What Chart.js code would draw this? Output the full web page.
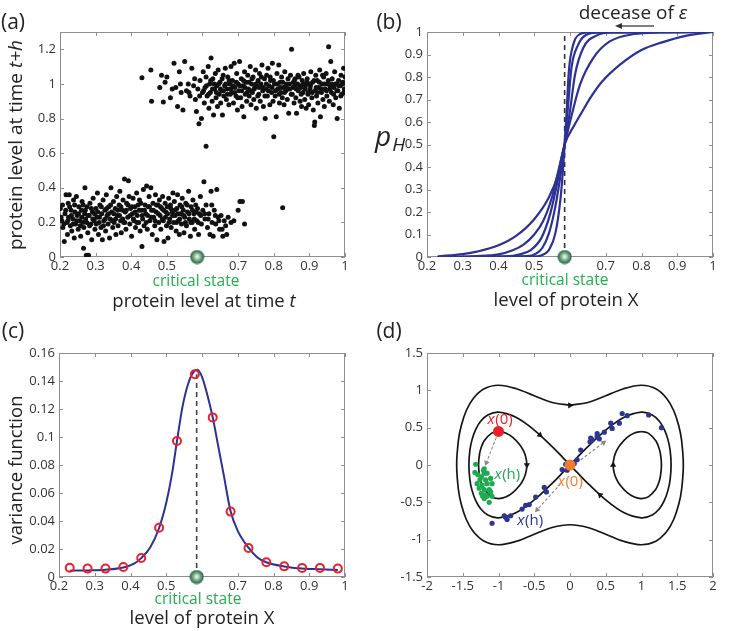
<!DOCTYPE html>
<html>
<head>
<meta charset="utf-8">
<title>Critical state</title>
<script src="https://cdn.jsdelivr.net/npm/chart.js@4.4.1/dist/chart.umd.min.js"></script>
<style>
  body { margin: 0; width: 748px; height: 631px; position: relative; overflow: hidden; background: #fff; font-family: "Open Sans", sans-serif; color: #222; }
  canvas { position: absolute; }
  .lbl { position: absolute; white-space: nowrap; transform: translate(-50%, -50%); line-height: 1; }
  .rot { transform: translate(-50%, -50%) rotate(-90deg); }
  .crit { color: #22b04b; font-size: 15.5px; }
  .ttl { font-size: 18.5px; }
  .tag { font-size: 21px; }
</style>
</head>
<body>
<canvas id="chartA" width="374" height="315" style="left:0;top:0"></canvas>
<canvas id="chartB" width="374" height="315" style="left:374px;top:0"></canvas>
<canvas id="chartC" width="374" height="316" style="left:0;top:315px"></canvas>
<canvas id="chartD" width="374" height="316" style="left:374px;top:315px"></canvas>

<div class="lbl tag" style="left:13px;top:21px">(a)</div>
<div class="lbl tag" style="left:389px;top:21px">(b)</div>
<div class="lbl tag" style="left:13px;top:330px">(c)</div>
<div class="lbl tag" style="left:389px;top:330px">(d)</div>

<div class="lbl ttl rot" style="left:15px;top:145px;font-size:19px">protein level at time <i>t+h</i></div>
<div class="lbl ttl" style="left:204px;top:300px">protein level at time <i>t</i></div>
<div class="lbl crit" style="left:196px;top:281px">critical state</div>

<div style="position:absolute;left:375px;top:121px;font-size:28px;font-style:italic;line-height:28px">p<span style="font-size:19px;position:relative;top:5px;margin-left:1px">H</span></div>
<div class="lbl ttl" style="left:566px;top:299px">level of protein X</div>
<div class="lbl crit" style="left:565px;top:280px">critical state</div>
<div class="lbl ttl" style="left:633px;top:12px;font-size:19px">decease of <i>ε</i></div>
<svg style="position:absolute;left:610px;top:20px" width="46" height="12">
  <line x1="44" y1="6" x2="10" y2="6" stroke="#555" stroke-width="1.4"/>
  <polygon points="5,6 12,3 12,9" fill="#333"/>
</svg>

<div class="lbl ttl rot" style="left:15px;top:470px">variance function</div>
<div class="lbl ttl" style="left:202px;top:617px">level of protein X</div>
<div class="lbl crit" style="left:198px;top:599px">critical state</div>

<script>
// ---------- data ----------
const criticalX = 0.585;

const proteinTicks = [0.2, 0.3, 0.4, 0.5, 0.6, 0.7, 0.8, 0.9, 1];
const proteinTickLabels = ['0.2', '0.3', '0.4', '0.5', '', '0.7', '0.8', '0.9', '1'];
const levelTicksA = [0, 0.2, 0.4, 0.6, 0.8, 1, 1.2];
const levelTickLabelsA = ['0', '0.2', '0.4', '0.6', '0.8', '1', '1.2'];
const probTicks = [0, 0.1, 0.2, 0.3, 0.4, 0.5, 0.6, 0.7, 0.8, 0.9, 1];
const probTickLabels = ['0', '0.1', '0.2', '0.3', '0.4', '0.5', '0.6', '0.7', '0.8', '0.9', '1'];
const varTicks = [0, 0.02, 0.04, 0.06, 0.08, 0.1, 0.12, 0.14, 0.16];
const varTickLabels = ['0', '0.02', '0.04', '0.06', '0.08', '0.1', '0.12', '0.14', '0.16'];
const phaseXTicks = [-2, -1.5, -1, -0.5, 0, 0.5, 1, 1.5, 2];
const phaseXTickLabels = ['-2', '-1.5', '-1', '-0.5', '0', '0.5', '1', '1.5', '2'];
const phaseYTicks = [-1.5, -1, -0.5, 0, 0.5, 1, 1.5];
const phaseYTickLabels = ['-1.5', '-1', '-0.5', '0', '0.5', '1', '1.5'];

// (a) protein level at t vs t+h, low state
const lowCluster = [
  [0.201,0.28],[0.205,0.21],[0.208,0.17],[0.212,0.09],[0.214,0.25],[0.217,0.36],[0.219,0.2],[0.221,0.13],[0.223,0.31],
  [0.224,0.23],[0.226,0.36],[0.229,0.18],[0.231,0.27],[0.233,0.15],[0.236,0.22],[0.238,0.33],[0.24,0.11],[0.242,0.26],
  [0.244,0.19],[0.246,0.35],[0.248,0.24],[0.251,0.16],[0.253,0.29],[0.255,0.21],[0.258,0.12],[0.26,0.27],[0.262,0.32],
  [0.264,0.2],[0.266,0.05],[0.267,0.17],[0.269,0.25],[0.27,0.4],[0.272,0.22],[0.274,0.01],[0.276,0.29],[0.278,0.14],[0.28,0.01],
  [0.282,0.24],[0.284,0.31],[0.287,0.19],[0.289,0.1],[0.291,0.26],[0.293,0.34],[0.296,0.21],[0.298,0.16],
  [0.301,0.28],[0.303,0.23],[0.305,0.37],[0.308,0.13],[0.31,0.2],[0.312,0.3],[0.315,0.17],[0.317,0.25],[0.319,0.1],
  [0.321,0.33],[0.323,0.21],[0.326,0.27],[0.328,0.15],[0.33,0.36],[0.332,0.24],[0.335,0.19],[0.337,0.29],[0.339,0.11],
  [0.341,0.22],[0.343,0.4],[0.345,0.26],[0.348,0.17],[0.35,0.32],[0.352,0.2],[0.355,0.28],[0.357,0.13],[0.359,0.35],
  [0.361,0.24],[0.363,0.18],[0.366,0.3],[0.368,0.38],[0.37,0.21],[0.372,0.14],[0.375,0.27],[0.377,0.33],[0.379,0.2],
  [0.381,0.45],[0.383,0.26],[0.385,0.16],[0.387,0.31],[0.39,0.23],[0.392,0.44],[0.394,0.35],[0.396,0.19],[0.398,0.28],
  [0.401,0.12],[0.403,0.25],[0.405,0.34],[0.408,0.21],[0.41,0.29],[0.412,0.17],[0.415,0.37],[0.417,0.24],[0.419,0.3],
  [0.421,0.2],[0.423,0.33],[0.425,0.15],[0.428,0.27],[0.43,0.06],[0.432,0.22],[0.434,0.39],[0.436,0.18],[0.439,0.3],
  [0.441,0.25],[0.443,0.41],[0.445,0.16],[0.448,0.29],[0.45,0.35],[0.452,0.21],[0.455,0.4],[0.457,0.27],[0.459,0.13],
  [0.461,0.31],[0.463,0.23],[0.466,0.18],[0.468,0.36],[0.47,0.26],[0.472,0.1],[0.475,0.3],[0.477,0.2],[0.479,0.33],
  [0.481,0.24],[0.483,0.16],[0.486,0.28],[0.488,0.35],[0.49,0.21],[0.492,0.09],[0.495,0.31],[0.497,0.26],[0.499,0.18],
  [0.501,0.29],[0.503,0.11],[0.505,0.34],[0.508,0.22],[0.51,0.3],[0.512,0.17],[0.515,0.26],[0.517,0.37],[0.519,0.2],
  [0.521,0.32],[0.523,0.24],[0.526,0.15],[0.528,0.28],[0.53,0.36],[0.532,0.21],[0.535,0.13],[0.537,0.3],[0.539,0.25],
  [0.541,0.19],[0.543,0.34],[0.546,0.27],[0.548,0.14],[0.55,0.23],[0.553,0.31],[0.555,0.18],[0.558,0.26],
  [0.561,0.38],[0.563,0.22],[0.566,0.12],[0.568,0.29],[0.571,0.2],[0.573,0.33],[0.576,0.25],[0.578,0.16],
  [0.581,0.3],[0.584,0.21],[0.586,0.28],[0.589,0.13],[0.591,0.25],[0.594,0.35],[0.597,0.19],
  [0.601,0.27],[0.604,0.435],[0.607,0.22],[0.61,0.3],[0.614,0.17],[0.618,0.25],[0.621,0.13],[0.624,0.38],[0.627,0.2],
  [0.63,0.12],[0.633,0.27],[0.637,0.19],[0.64,0.39],[0.644,0.23],[0.648,0.16],
  [0.652,0.24],[0.657,0.12],[0.661,0.21],[0.665,0.18],[0.672,0.23],[0.68,0.2],[0.688,0.21],[0.7,0.27],[0.705,0.32],
  [0.712,0.32],[0.718,0.19],[0.825,0.285],
  [0.203,0.23],[0.207,0.3],[0.211,0.19],[0.216,0.27],[0.222,0.21],[0.227,0.29],[0.232,0.24],[0.237,0.19],[0.241,0.3],[0.247,0.21],
  [0.252,0.25],[0.257,0.18],[0.261,0.23],[0.265,0.3],[0.271,0.27],[0.275,0.2],[0.279,0.24],[0.283,0.18],[0.288,0.28],[0.292,0.22],
  [0.297,0.25],[0.302,0.19],[0.306,0.26],[0.311,0.23],[0.316,0.29],[0.322,0.18],[0.327,0.22],[0.331,0.28],[0.336,0.25],[0.342,0.3],
  [0.346,0.21],[0.351,0.25],[0.356,0.22],[0.362,0.27],[0.367,0.24],[0.371,0.29],[0.376,0.22],[0.382,0.2],[0.386,0.27],[0.391,0.3],
  [0.397,0.24],[0.402,0.29],[0.406,0.22],[0.411,0.26],[0.416,0.2],[0.422,0.27],[0.427,0.31],[0.431,0.24],[0.437,0.27],[0.442,0.2],
  [0.446,0.24],[0.451,0.29],[0.456,0.23],[0.462,0.27],[0.467,0.21],[0.471,0.3],[0.476,0.25],[0.482,0.29],[0.487,0.22],[0.491,0.27],
  [0.496,0.23],[0.502,0.25],[0.506,0.2],[0.511,0.28],[0.516,0.24],[0.522,0.27],[0.527,0.2],[0.531,0.25],[0.536,0.22],[0.542,0.29],
  [0.547,0.24],[0.552,0.2],[0.557,0.3],[0.562,0.25],[0.567,0.2],[0.572,0.27],[0.577,0.22],[0.582,0.26],[0.588,0.2],[0.595,0.24],
  [0.606,0.25],[0.616,0.22],[0.626,0.3],[0.636,0.24],[0.646,0.21],[0.655,0.16],[0.668,0.13]
];

// (a) high state
const highCluster = [
  [0.43,1.035],[0.455,1.08],[0.457,0.9],[0.48,0.98],[0.485,1.05],[0.49,0.895],[0.495,1.01],[0.5,1.04],[0.51,0.92],
  [0.515,0.97],[0.52,1.12],[0.525,0.98],[0.53,0.87],[0.535,1.07],[0.54,0.95],[0.545,0.85],[0.55,1.13],[0.555,0.96],
  [0.56,1.0],[0.565,0.93],[0.57,1.09],[0.575,0.99],[0.58,0.91],[0.583,0.84],[0.587,0.97],[0.59,0.77],[0.593,1.02],
  [0.597,0.8],[0.6,0.95],[0.61,0.64],
  [0.602,1.07],[0.605,0.89],[0.607,0.98],[0.61,1.04],[0.613,0.93],[0.616,1.1],[0.618,0.86],[0.62,1.0],
  [0.622,0.95],[0.624,1.15],[0.627,0.9],[0.629,1.03],[0.631,0.82],[0.634,0.97],[0.636,1.06],[0.638,0.92],[0.64,0.99],
  [0.642,0.87],[0.644,1.08],[0.647,0.94],[0.649,1.01],[0.651,0.89],[0.654,0.96],[0.656,0.82],[0.658,1.05],[0.66,0.93],
  [0.662,0.99],[0.664,1.09],[0.667,0.91],[0.669,0.97],[0.671,1.04],[0.674,0.88],[0.676,1.0],[0.678,0.94],[0.68,1.1],
  [0.682,0.95],[0.684,1.02],[0.687,0.89],[0.689,1.12],[0.691,0.98],[0.694,0.93],[0.696,1.06],[0.698,0.85],[0.7,1.0],
  [0.702,0.96],[0.704,1.13],[0.707,0.92],[0.709,1.03],[0.711,0.87],[0.714,0.99],[0.716,0.81],[0.718,1.07],[0.72,0.94],
  [0.722,1.01],[0.724,0.9],[0.727,1.05],[0.729,0.97],[0.731,0.93],[0.734,1.1],[0.736,0.88],[0.738,1.0],[0.74,0.95],
  [0.742,1.04],[0.744,0.91],[0.747,0.98],[0.749,1.08],[0.751,0.86],[0.754,0.99],[0.756,1.02],[0.758,0.94],[0.76,1.06],
  [0.762,0.9],[0.764,1.0],[0.767,1.11],[0.769,0.96],[0.771,0.87],[0.774,1.03],[0.776,0.8],[0.778,0.97],[0.78,1.05],
  [0.782,0.93],[0.784,1.09],[0.787,0.99],[0.789,0.88],[0.791,1.02],[0.794,0.95],[0.796,1.12],[0.798,0.9],[0.8,0.695],
  [0.802,1.0],[0.804,0.93],[0.807,0.81],[0.809,1.06],[0.811,0.97],[0.814,1.11],[0.816,0.89],[0.818,1.01],[0.82,0.95],
  [0.822,1.04],[0.824,0.92],[0.827,0.98],[0.829,0.88],[0.831,1.07],[0.834,0.96],[0.836,1.0],[0.838,0.91],[0.84,1.03],
  [0.842,0.83],[0.845,0.97],[0.847,1.05],[0.85,1.2],[0.852,0.94],[0.855,1.01],[0.857,0.89],[0.859,0.99],[0.86,1.03],
  [0.862,0.92],[0.864,0.83],[0.867,1.0],[0.869,0.96],[0.871,1.04],[0.874,0.9],[0.876,0.98],[0.878,0.87],[0.88,1.02],
  [0.882,0.95],[0.884,1.06],[0.887,0.91],[0.889,0.99],[0.891,0.86],[0.894,1.03],[0.896,0.94],[0.898,0.88],[0.9,1.0],
  [0.902,0.97],[0.904,1.07],[0.907,0.92],[0.909,1.01],[0.911,0.85],[0.914,0.76],[0.915,0.78],[0.916,0.96],[0.918,1.05],[0.92,0.93],
  [0.922,1.02],[0.924,0.89],[0.927,0.98],[0.929,1.08],[0.931,0.81],[0.934,0.95],[0.936,1.0],[0.938,0.91],[0.94,1.04],
  [0.942,0.87],[0.944,0.97],[0.947,1.06],[0.949,0.93],[0.951,1.0],[0.954,1.215],[0.956,0.9],[0.958,0.99],[0.96,1.13],
  [0.962,0.95],[0.964,1.03],[0.967,0.88],[0.969,0.98],[0.971,1.07],[0.974,0.92],[0.976,1.0],[0.978,0.8],[0.98,0.96],
  [0.982,1.02],[0.984,0.86],[0.987,0.99],[0.989,1.05],[0.991,0.94],[0.994,1.01],[0.996,1.09],[0.998,0.97],[1.0,1.04],
  [0.603,0.96],[0.611,0.99],[0.617,0.94],[0.623,1.02],[0.628,0.97],[0.633,1.0],[0.639,0.95],[0.645,1.0],[0.65,0.97],[0.655,1.03],
  [0.659,0.96],[0.665,1.0],[0.67,0.94],[0.675,1.02],[0.679,0.97],[0.685,0.99],[0.69,0.95],[0.695,1.01],[0.699,0.92],[0.705,0.99],
  [0.71,0.96],[0.715,1.02],[0.719,0.98],[0.725,0.95],[0.73,1.01],[0.735,0.96],[0.739,1.03],[0.745,0.97],[0.75,1.0],[0.755,0.93],
  [0.759,0.98],[0.765,1.04],[0.77,0.98],[0.775,0.93],[0.779,1.0],[0.785,0.96],[0.79,1.04],[0.795,0.98],[0.799,1.02],[0.805,0.96],
  [0.81,1.0],[0.815,0.94],[0.819,0.98],[0.825,1.01],[0.83,0.95],[0.835,0.99],[0.839,0.97],[0.844,1.0],[0.849,0.94],[0.854,0.98],
  [0.858,1.02],[0.863,0.97],[0.868,1.05],[0.873,0.99],[0.877,0.94],[0.883,1.0],[0.888,0.97],[0.893,1.01],[0.897,0.95],[0.903,0.99],
  [0.908,0.95],[0.913,1.02],[0.919,0.98],[0.923,0.95],[0.928,1.01],[0.933,0.97],[0.937,1.05],[0.943,1.0],[0.948,0.96],[0.953,1.02],
  [0.957,0.97],[0.963,1.0],[0.968,0.94],[0.973,1.0],[0.977,0.96],[0.983,0.99],[0.988,0.93],[0.993,1.0],[0.997,0.95],
  [0.538,1.0],[0.562,0.95],[0.578,1.03],[0.592,0.93]
];

// (b) p_H curves, widest (largest epsilon) first
const pHCurvesX = [
  [0.23, 0.30, 0.34, 0.40, 0.45, 0.50, 0.54, 0.565, 0.585, 0.61, 0.63, 0.66, 0.69, 0.74, 0.80, 0.86, 0.92, 1.0],
  [0.23, 0.34, 0.40, 0.44, 0.47, 0.50, 0.525, 0.55, 0.568, 0.585, 0.60, 0.628, 0.665, 0.71, 0.78, 0.85, 1.0],
  [0.23, 0.42, 0.46, 0.49, 0.52, 0.545, 0.566, 0.585, 0.60, 0.614, 0.637, 0.675, 0.72, 1.0],
  [0.23, 0.48, 0.505, 0.522, 0.541, 0.559, 0.575, 0.585, 0.595, 0.604, 0.623, 0.646, 0.685, 1.0],
  [0.23, 0.508, 0.53, 0.541, 0.559, 0.573, 0.58, 0.585, 0.59, 0.597, 0.609, 0.628, 0.65, 1.0]
];
const pHCurvesY = [
  [0.003, 0.013, 0.024, 0.052, 0.095, 0.168, 0.262, 0.36, 0.5, 0.58, 0.635, 0.715, 0.78, 0.855, 0.92, 0.955, 0.982, 1.0],
  [0, 0.004, 0.012, 0.03, 0.055, 0.1, 0.16, 0.268, 0.387, 0.5, 0.6, 0.766, 0.884, 0.957, 0.991, 0.998, 1.0],
  [0, 0.003, 0.012, 0.031, 0.085, 0.194, 0.342, 0.5, 0.65, 0.81, 0.929, 0.985, 0.998, 1.0],
  [0, 0.004, 0.015, 0.039, 0.105, 0.224, 0.38, 0.5, 0.68, 0.84, 0.944, 0.988, 0.998, 1.0],
  [0, 0.003, 0.015, 0.031, 0.105, 0.253, 0.38, 0.5, 0.63, 0.83, 0.944, 0.991, 0.998, 1.0]
];

// (c) variance function
const varCurveX = [0.23, 0.28, 0.33, 0.38, 0.41, 0.43, 0.455, 0.48, 0.50, 0.515, 0.53, 0.545, 0.56, 0.575, 0.587,
  0.60, 0.615, 0.63, 0.645, 0.66, 0.68, 0.70, 0.73, 0.755, 0.78, 0.83, 0.88, 0.93, 0.98];
const varCurveY = [0.0045, 0.0047, 0.0052, 0.0068, 0.0095, 0.0135, 0.021, 0.035, 0.053, 0.072, 0.097, 0.121, 0.137, 0.146, 0.148,
  0.143, 0.13, 0.114, 0.094, 0.074, 0.047, 0.033, 0.021, 0.014, 0.0105, 0.0075, 0.006, 0.0055, 0.005];
const varSampleX = [0.23, 0.28, 0.33, 0.38, 0.43, 0.48, 0.53, 0.58, 0.63, 0.68, 0.73, 0.78, 0.83, 0.88, 0.93, 0.98];
const varSampleY = [0.0066, 0.006, 0.006, 0.0072, 0.0136, 0.0352, 0.0971, 0.1448, 0.114, 0.0467, 0.0207, 0.0105, 0.0076, 0.0065, 0.0065, 0.006];

// (d) phase plane orbits
const outerOrbit = [
  [0,0.8],[0.25,0.837],[0.5,0.927],[0.75,1.022],[1.0,1.068],[1.2,1.021],[1.35,0.895],[1.45,0.73],[1.52,0.53],[1.56,0.335],
  [1.585,0],[1.56,-0.335],[1.52,-0.53],[1.45,-0.73],[1.35,-0.895],[1.2,-1.021],[1.0,-1.068],[0.75,-1.022],[0.5,-0.927],
  [0.25,-0.837],[0,-0.8],[-0.25,-0.837],[-0.5,-0.927],[-0.75,-1.022],[-1.0,-1.068],[-1.2,-1.021],[-1.35,-0.895],
  [-1.45,-0.73],[-1.52,-0.53],[-1.56,-0.335],[-1.585,0],[-1.56,0.335],[-1.52,0.53],[-1.45,0.73],[-1.35,0.895],
  [-1.2,1.021],[-1.0,1.068],[-0.75,1.022],[-0.5,0.927],[-0.25,0.837],[0,0.8]
];
const separatrix = [
  [0,0],[0.1,0.0998],[0.25,0.246],[0.5,0.468],[0.75,0.636],[1.0,0.707],[1.15,0.669],[1.25,0.585],[1.32,0.474],[1.37,0.34],
  [1.40,0.198],[1.414,0],[1.40,-0.198],[1.37,-0.34],[1.32,-0.474],[1.25,-0.585],[1.15,-0.669],[1.0,-0.707],[0.75,-0.636],
  [0.5,-0.468],[0.25,-0.246],[0.1,-0.0998],[0,0],[-0.1,0.0998],[-0.25,0.246],[-0.5,0.468],[-0.75,0.636],[-1.0,0.707],
  [-1.15,0.669],[-1.25,0.585],[-1.32,0.474],[-1.37,0.34],[-1.40,0.198],[-1.414,0],[-1.40,-0.198],[-1.37,-0.34],
  [-1.32,-0.474],[-1.25,-0.585],[-1.15,-0.669],[-1.0,-0.707],[-0.75,-0.636],[-0.5,-0.468],[-0.25,-0.246],[-0.1,-0.0998],[0,0]
];
const rightInnerOrbit = [
  [1.0,0.449],[1.1,0.424],[1.2,0.324],[1.24,0.24],[1.265,0.148],[1.279,0],[1.265,-0.148],[1.24,-0.24],[1.2,-0.324],
  [1.1,-0.424],[1.0,-0.449],[0.9,-0.429],[0.8,-0.37],[0.7,-0.268],[0.65,-0.188],[0.62,-0.112],[0.603,0],[0.62,0.112],
  [0.65,0.188],[0.7,0.268],[0.8,0.37],[0.9,0.429],[1.0,0.449]
];
const leftInnerOrbit = [
  [-1.0,0.449],[-0.9,0.429],[-0.8,0.37],[-0.7,0.268],[-0.65,0.188],[-0.62,0.112],[-0.603,0],[-0.62,-0.112],[-0.65,-0.188],
  [-0.7,-0.268],[-0.8,-0.37],[-0.9,-0.429],[-1.0,-0.449],[-1.1,-0.424],[-1.2,-0.324],[-1.24,-0.24],[-1.265,-0.148],
  [-1.279,0],[-1.265,0.148],[-1.24,0.24],[-1.2,0.324],[-1.1,0.424],[-1.0,0.449]
];
// flow direction marks on the orbits (angle in degrees, 0 = up, clockwise)
const flowMarkX = [0, -0.42, 0.42, -0.603, 0.603];
const flowMarkY = [0.8, 0.40, -0.40, 0, 0];
const flowMarkAngle = [90, 132, -48, 180, 0];

const greenSamples = [
  [-1.32,0.01],[-1.33,-0.10],[-1.21,-0.07],[-1.20,-0.11],[-1.24,-0.16],[-1.16,-0.11],[-1.26,-0.2],[-1.18,-0.2],
  [-1.11,-0.18],[-1.30,-0.25],[-1.23,-0.27],[-1.16,-0.25],[-1.09,-0.25],[-1.27,-0.31],[-1.20,-0.33],[-1.13,-0.33],
  [-1.24,-0.38],[-1.18,-0.40],[-1.11,-0.36],[-1.09,-0.42],[-1.20,-0.45],[-1.13,-0.50],[-1.22,-0.42],[-1.16,-0.42],
  [-1.29,-0.13],[-1.20,-0.05]
];
const blueSamples = [
  [-1.09,-0.78],[-0.92,-0.68],[-0.88,-0.73],[-0.83,-0.68],[-0.90,-0.70],[-0.67,-0.59],[-0.62,-0.54],[-0.57,-0.53],
  [-0.48,-0.43],[-0.36,-0.30],[-0.33,-0.36],[-0.11,-0.06],[-0.06,0.01],[-0.04,-0.07],[0.06,0.02],[0.10,0.07],[0.15,0.2],
  [0.28,0.31],[0.29,0.36],[0.31,0.34],[0.38,0.38],[0.41,0.35],[0.38,0.42],[0.48,0.44],[0.57,0.56],[0.59,0.49],
  [0.69,0.56],[0.73,0.69],[0.80,0.66],[1.10,0.67],[1.28,0.50]
];
const startLeft = [-1, 0.45];
const startSaddle = [0, 0];
// displacement arrows: [from, to]
const shiftArrows = [
  [[-1.03, 0.37], [-1.17, 0.03]],
  [[0.15, 0.07], [0.47, 0.30]],
  [[-0.13, -0.25], [-0.46, -0.60]]
];
const stateLabelX = [-0.98, 0.0, -0.88, -0.56];
const stateLabelY = [0.61, -0.22, -0.13, -0.74];
const stateLabelArg = ['0', '0', 'h', 'h'];

// ---------- styling ----------
const RED = '#e8212b', ORANGE = '#f27b2b', GREEN = '#1faa52', NAVY = '#2b3592', CURVE = '#2c3194';
const stateLabelColor = [RED, ORANGE, GREEN, NAVY];
const FONT = 'Open Sans';
const tickFont = { family: FONT, size: 13 };

const pts = arr => arr.map(([x, y]) => ({ x, y }));
const zipXY = (xs, ys) => xs.map((x, i) => ({ x, y: ys[i] }));

function makeBall() {
  const c = document.createElement('canvas');
  c.width = c.height = 15;
  const g = c.getContext('2d');
  const grad = g.createRadialGradient(7.5, 7, 0.5, 7.5, 7.5, 7.2);
  grad.addColorStop(0, '#f2f7f3');
  grad.addColorStop(0.45, '#7fb092');
  grad.addColorStop(1, '#1c5a34');
  g.fillStyle = grad;
  g.beginPath();
  g.arc(7.5, 7.5, 7, 0, Math.PI * 2);
  g.fill();
  return c;
}
const ball = makeBall();

// MATLAB-like frame with inward ticks on all four sides
const boxFrame = {
  id: 'boxFrame',
  beforeDatasetsDraw(chart) {
    const { ctx, chartArea: a, scales: { x, y } } = chart;
    ctx.save();
    ctx.strokeStyle = '#8e8e8e';
    ctx.lineWidth = 1;
    ctx.strokeRect(Math.round(a.left) + 0.5, Math.round(a.top) + 0.5, Math.round(a.width) - 1, Math.round(a.height) - 1);
    ctx.beginPath();
    x.ticks.forEach(t => {
      const p = Math.round(x.getPixelForValue(t.value)) + 0.5;
      ctx.moveTo(p, a.bottom); ctx.lineTo(p, a.bottom - 4);
      ctx.moveTo(p, a.top); ctx.lineTo(p, a.top + 4);
    });
    y.ticks.forEach(t => {
      const p = Math.round(y.getPixelForValue(t.value)) + 0.5;
      ctx.moveTo(a.left, p); ctx.lineTo(a.left + 4, p);
      ctx.moveTo(a.right, p); ctx.lineTo(a.right - 4, p);
    });
    ctx.stroke();
    ctx.restore();
  }
};

// x(0) / x(h) labels in panel (d)
const stateLabels = {
  id: 'stateLabels',
  afterDatasetsDraw(chart) {
    if (!chart.options.plugins.stateLabels) return;
    const { ctx, scales: { x, y } } = chart;
    ctx.save();
    ctx.textBaseline = 'middle';
    stateLabelX.forEach((lx, i) => {
      const rest = '(' + stateLabelArg[i] + ')';
      ctx.font = 'italic 15px "' + FONT + '"';
      const w1 = ctx.measureText('x').width;
      ctx.font = '15px "' + FONT + '"';
      const w2 = ctx.measureText(rest).width;
      const px = x.getPixelForValue(lx) - (w1 + w2) / 2;
      const py = y.getPixelForValue(stateLabelY[i]);
      ctx.fillStyle = stateLabelColor[i];
      ctx.font = 'italic 15px "' + FONT + '"';
      ctx.fillText('x', px, py);
      ctx.font = '15px "' + FONT + '"';
      ctx.fillText(rest, px + w1 + 0.5, py);
    });
    ctx.restore();
  }
};

function axis(dir, min, max, values, labels, size) {
  return {
    type: 'linear', min, max,
    grid: { display: false, drawTicks: false },
    border: { display: false },
    afterBuildTicks: s => { s.ticks = values.map(v => ({ value: v })); },
    afterFit: s => { if (dir === 'x') s.height = size; else s.width = size; },
    ticks: {
      padding: dir === 'x' ? 1 : 4, color: '#333', font: tickFont,
      autoSkip: false, maxRotation: 0, includeBounds: false,
      callback: (v, i) => labels[i]
    }
  };
}

function makeChart(id, padding, xAxis, yAxis, datasets, extra) {
  return new Chart(document.getElementById(id), {
    type: 'scatter',
    data: { datasets },
    options: {
      responsive: false, animation: false, events: [],
      layout: { padding },
      plugins: Object.assign({ legend: { display: false }, tooltip: { enabled: false } }, extra || {}),
      scales: { x: xAxis, y: yAxis }
    },
    plugins: [boxFrame, stateLabels]
  });
}

const ballSet = { data: [{ x: criticalX, y: 0 }], pointStyle: ball, pointRadius: 7, clip: false, order: 0 };

// (a)
makeChart('chartA', { left: 0, right: 29, top: 32, bottom: 28 },
  axis('x', 0.2, 1, proteinTicks, proteinTickLabels, 30),
  axis('y', 0, 1.3, levelTicksA, levelTickLabelsA, 60),
  [
    ballSet,
    { data: pts(lowCluster), pointRadius: 2.5, backgroundColor: '#111', borderWidth: 0, order: 2 },
    { data: pts(highCluster), pointRadius: 2.5, backgroundColor: '#111', borderWidth: 0, order: 2 }
  ]);

// (b)
const pHSets = pHCurvesX.map((xs, k) => ({
  data: zipXY(xs, pHCurvesY[k]), showLine: true, pointRadius: 0, borderColor: CURVE,
  borderWidth: 2.2, cubicInterpolationMode: 'monotone', order: 2
}));
makeChart('chartB', { left: 0, right: 35, top: 32, bottom: 28 },
  axis('x', 0.2, 1, proteinTicks, proteinTickLabels, 30),
  axis('y', 0, 1, probTicks, probTickLabels, 53),
  [
    ballSet,
    { data: [{ x: criticalX, y: 0 }, { x: criticalX, y: 1 }], showLine: true, pointRadius: 0,
      borderColor: '#333', borderWidth: 1.6, borderDash: [5, 4], order: 3 },
    ...pHSets
  ]);

// (c)
makeChart('chartC', { left: 0, right: 29, top: 38, bottom: 24 },
  axis('x', 0.2, 1, proteinTicks, proteinTickLabels, 30),
  axis('y', 0, 0.16, varTicks, varTickLabels, 59),
  [
    ballSet,
    { data: zipXY(varSampleX, varSampleY), pointRadius: 4, pointBorderWidth: 2, borderColor: RED,
      backgroundColor: 'rgba(0,0,0,0)', order: 1 },
    { data: zipXY(varCurveX, varCurveY), showLine: true, pointRadius: 0, borderColor: CURVE,
      borderWidth: 2, cubicInterpolationMode: 'monotone', order: 2 },
    { data: [{ x: criticalX, y: 0 }, { x: criticalX, y: varSampleY[7] }], showLine: true, pointRadius: 0,
      borderColor: '#444', borderWidth: 1.6, borderDash: [5, 4], order: 3 }
  ]);

// (d)
const orbitStyle = { showLine: true, pointRadius: 0, borderColor: '#151515', borderWidth: 1.7, tension: 0.35, order: 5 };
const arrowRotation = ctx => {
  if (ctx.dataIndex === 0) return 0;
  const d = ctx.dataset.data, sx = ctx.chart.scales.x, sy = ctx.chart.scales.y;
  const dx = sx.getPixelForValue(d[1].x) - sx.getPixelForValue(d[0].x);
  const dy = sy.getPixelForValue(d[1].y) - sy.getPixelForValue(d[0].y);
  return Math.atan2(dx, -dy) * 180 / Math.PI;
};
const shiftSets = shiftArrows.map(([a, b]) => ({
  data: pts([a, b]), showLine: true, borderColor: '#8a8a8a', borderWidth: 1.1, borderDash: [3, 2],
  pointRadius: [0, 3.3], pointStyle: 'triangle', backgroundColor: '#8a8a8a',
  pointBorderWidth: 0, pointRotation: arrowRotation, order: 3
}));
makeChart('chartD', { left: 0, right: 35, top: 38, bottom: 24 },
  axis('x', -2, 2, phaseXTicks, phaseXTickLabels, 30),
  axis('y', -1.5, 1.5, phaseYTicks, phaseYTickLabels, 53),
  [
    { data: pts([startLeft]), pointRadius: 5.5, backgroundColor: RED, borderWidth: 0, order: 0 },
    { data: pts([startSaddle]), pointRadius: 5.5, backgroundColor: ORANGE, borderWidth: 0, order: 0 },
    { data: pts(greenSamples), pointRadius: 2.6, backgroundColor: GREEN, borderWidth: 0, order: 1 },
    { data: pts(blueSamples), pointRadius: 2.6, backgroundColor: NAVY, borderWidth: 0, order: 1 },
    ...shiftSets,
    { data: zipXY(flowMarkX, flowMarkY), pointStyle: 'triangle', pointRadius: 3.6, backgroundColor: '#151515',
      borderWidth: 0, pointRotation: flowMarkAngle, order: 4 },
    Object.assign({ data: pts(outerOrbit) }, orbitStyle),
    Object.assign({ data: pts(separatrix) }, orbitStyle),
    Object.assign({ data: pts(rightInnerOrbit) }, orbitStyle),
    Object.assign({ data: pts(leftInnerOrbit) }, orbitStyle)
  ], { stateLabels: true });
</script>
</body>
</html>
